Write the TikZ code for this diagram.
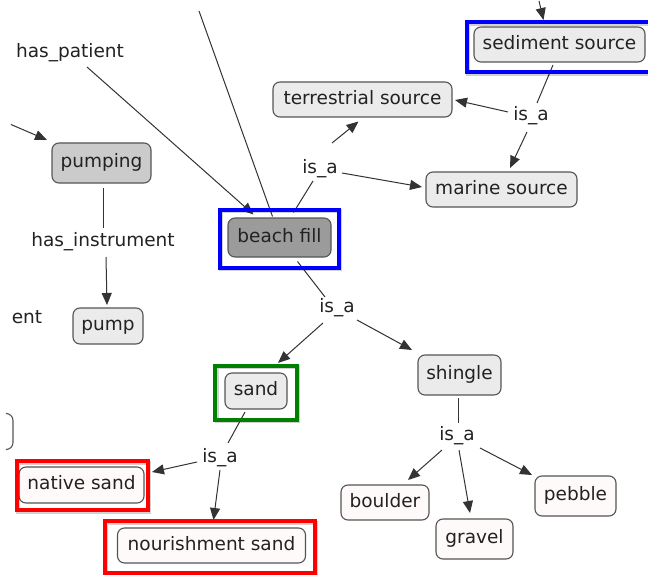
\documentclass[tikz,border=0pt]{standalone}
\usepackage{fontspec}
\setmainfont{DejaVu Sans}
\usetikzlibrary{arrows.meta}
\definecolor{edgeclr}{HTML}{333333}
\definecolor{borderclr}{HTML}{555555}
\definecolor{txtclr}{HTML}{222222}
\definecolor{lightfill}{HTML}{EBEBEB}
\definecolor{midfill}{HTML}{CBCBCB}
\definecolor{darkfill}{HTML}{9B9B9B}
\definecolor{paperfill}{HTML}{FDFAF9}
\definecolor{frameblue}{HTML}{0000FF}
\definecolor{framegreen}{HTML}{008000}
\definecolor{framered}{HTML}{FF0000}
\begin{document}
\begin{tikzpicture}[x=1pt,y=-1pt,
  every node/.style={font=\fontsize{18.5}{22}\selectfont, text=txtclr,
    text height=14pt, text depth=4.5pt},
  concept/.style={draw=borderclr, line width=1.1pt, rounded corners=7pt,
    inner xsep=3pt, inner ysep=0pt},
  lightbox/.style={concept, fill=lightfill},
  midbox/.style={concept, fill=midfill},
  darkbox/.style={concept, fill=darkfill},
  paperbox/.style={concept, fill=paperfill},
  linkword/.style={inner sep=2pt},
  link/.style={draw=edgeclr, line width=1pt},
  arr/.style={link, -{Triangle[length=12pt,width=10pt]}},
  frame/.style={line width=4pt},
  frameshadow/.style={line width=4pt, draw=black, opacity=0.18},
]
\useasboundingbox (0,0) rectangle (648,575);
\fill[white] (0,0) rectangle (648,575);

% concepts
\node[lightbox, minimum width=171pt, minimum height=35pt] (sed) at (559.5,44.5) {sediment source};
\node[lightbox, minimum width=179pt, minimum height=35pt] (terr) at (362.5,99.5) {terrestrial source};
\node[lightbox, minimum width=151pt, minimum height=35pt] (mar) at (501.5,189.5) {marine source};
\node[darkbox, minimum width=103pt, minimum height=39pt] (beach) at (279.5,237.5) {beach fill};
\node[midbox, minimum width=99pt, minimum height=40pt] (pumping) at (101.5,163) {pumping};
\node[lightbox, minimum width=70pt, minimum height=36pt] (pump) at (108,326) {pump};
\node[lightbox, minimum width=62pt, minimum height=36pt] (sand) at (256,391) {sand};
\node[lightbox, minimum width=83pt, minimum height=40pt] (shingle) at (459.5,375) {shingle};
\node[paperbox, minimum width=125pt, minimum height=36pt] (native) at (81.5,485) {native sand};
\node[paperbox, minimum width=188pt, minimum height=35pt] (nour) at (211.5,545.5) {nourishment sand};
\node[paperbox, minimum width=88pt, minimum height=35pt] (boulder) at (385,502.5) {boulder};
\node[paperbox, minimum width=77pt, minimum height=40pt] (gravel) at (474.5,539) {gravel};
\node[paperbox, minimum width=81pt, minimum height=40pt] (pebble) at (575.5,496) {pebble};

% right end of a concept box cut by the left edge
\draw[draw=borderclr, line width=1.1pt, rounded corners=7pt]
  (7,413.5) -- (13,413.5) -- (13,449.5) -- (7,449.5);

% linking phrases
\node[linkword] (haspat) at (70,52.5) {has\_patient};
\node[linkword] (hasinst) at (103,242) {has\_instrument};
\node[linkword] (ent) at (27,319) {ent};
\node[linkword] (isa1) at (531,116) {is\_a};
\node[linkword] (isa2) at (320,168.5) {is\_a};
\node[linkword] (isa3) at (337,307.5) {is\_a};
\node[linkword] (isa4) at (220,457.5) {is\_a};
\node[linkword] (isa5) at (457,435.5) {is\_a};

% loose ends of links arriving from outside
\coordinate (topin) at (199,11);
\coordinate (leftin) at (11,124.5);
\coordinate (sedin) at (539,1);

% connectors
\draw[arr] ([shift={(17,14.5)}]haspat.center) -- ([shift={(-26,-23)}]beach.center);
\draw[link] (topin) -- ([shift={(-7,-21)}]beach.center);
\draw[link] ([shift={(14,-25)}]beach.center) -- ([shift={(-7,12.5)}]isa2.center);
\draw[arr] ([shift={(12,-25.5)}]isa2.center) -- ([shift={(-4,22)}]terr.center);
\draw[arr] ([shift={(22,4.5)}]isa2.center) -- ([shift={(-79.5,-2.5)}]mar.center);
\draw[link] ([shift={(-6.5,20.5)}]sed.center) -- ([shift={(6,-13)}]isa1.center);
\draw[arr] ([shift={(-23,-4)}]isa1.center) -- ([shift={(92.5,0.5)}]terr.center);
\draw[arr] ([shift={(-4,16)}]isa1.center) -- ([shift={(8.5,-21.5)}]mar.center);
\draw[arr] (sedin) -- ([shift={(-16,-24.5)}]sed.center);
\draw[arr] (leftin) -- ([shift={(-54.5,-23)}]pumping.center);
\draw[link] ([shift={(1.5,25)}]pumping.center) -- ([shift={(0,-14)}]hasinst.center);
\draw[arr] ([shift={(3,15)}]hasinst.center) -- ([shift={(-1,-21)}]pump.center);
\draw[link] ([shift={(18,24)}]beach.center) -- ([shift={(-12,-10.5)}]isa3.center);
\draw[arr] ([shift={(-14,15.5)}]isa3.center) -- ([shift={(22,-28)}]sand.center);
\draw[arr] ([shift={(20,12.5)}]isa3.center) -- ([shift={(-47.5,-25)}]shingle.center);
\draw[link] ([shift={(-11,21)}]sand.center) -- ([shift={(8,-14.5)}]isa4.center);
\draw[arr] ([shift={(-23,4.5)}]isa4.center) -- ([shift={(70.5,-13)}]native.center);
\draw[arr] ([shift={(0,12.5)}]isa4.center) -- ([shift={(2,-25.5)}]nour.center);
\draw[link] ([shift={(-1.5,23)}]shingle.center) -- ([shift={(1,-12.5)}]isa5.center);
\draw[arr] ([shift={(-15,14.5)}]isa5.center) -- ([shift={(23,-22.5)}]boulder.center);
\draw[arr] ([shift={(2,14.5)}]isa5.center) -- ([shift={(-4.5,-26)}]gravel.center);
\draw[arr] ([shift={(23,12.5)}]isa5.center) -- ([shift={(-43.5,-21)}]pebble.center);

% highlight frames
\foreach \n/\c/\ax/\ay/\bx/\by in {sed/frameblue/6.5/4/6.5/9.5,
    beach/frameblue/7.5/7.5/7/10,
    sand/framegreen/9/6.5/9/10,
    native/framered/1.5/5/3/6.5,
    nour/framered/12/6/8.5/9}{
  \draw[frameshadow] ([shift={(-\ax+1.5,-\ay+1.5)}]\n.north west) rectangle ([shift={(\bx+1.5,\by+1.5)}]\n.south east);
  \draw[frame, draw=\c] ([shift={(-\ax,-\ay)}]\n.north west) rectangle ([shift={(\bx,\by)}]\n.south east);
}
\end{tikzpicture}
\end{document}
